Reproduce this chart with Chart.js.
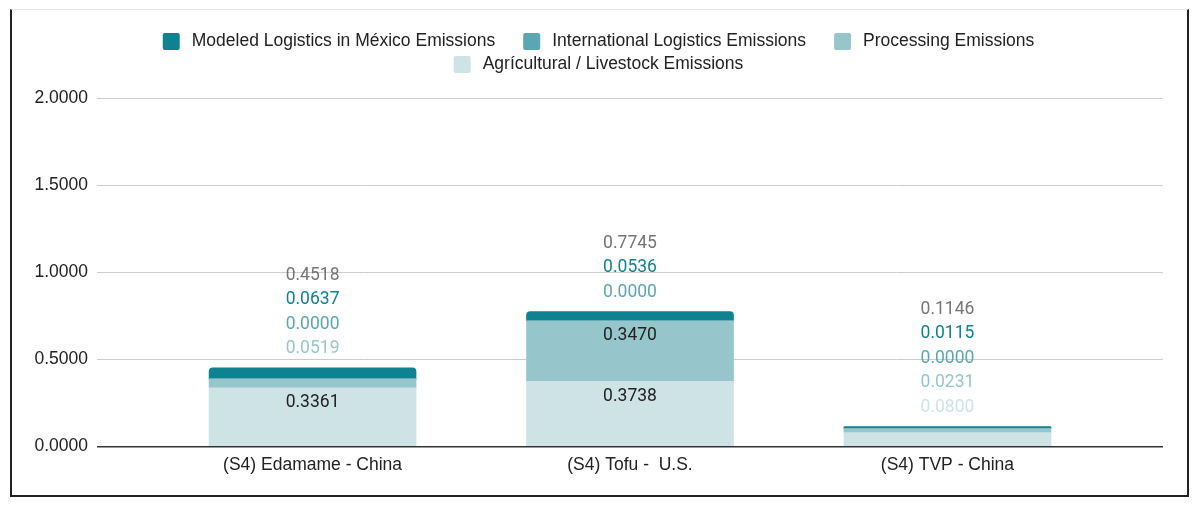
<!DOCTYPE html>
<html>
<head>
<meta charset="utf-8">
<script src="https://cdn.jsdelivr.net/npm/chart.js@4.4.1/dist/chart.umd.min.js"></script>
<style>
  html, body { margin: 0; padding: 0; background: #fff; }
  #wrap { position: relative; width: 1197px; height: 506px; }
  #frame { position: absolute; left: 10px; top: 9px; width: 1175px; height: 485px;
           border: 2px solid #222; border-top: 1px solid #e6e6e6; pointer-events: none; }
</style>
</head>
<body>
<div id="wrap">
  <canvas id="chart" width="1197" height="506"></canvas>
  <div id="frame"></div>
</div>
<script>
// Categories and series (bottom of stack first)
const categories = ['(S4) Edamame - China', '(S4) Tofu -  U.S.', '(S4) TVP - China'];
const agricultural = [0.3361, 0.3738, 0.0800];
const processing = [0.0519, 0.3470, 0.0231];
const international = [0.0000, 0.0000, 0.0000];
const modeled = [0.0637, 0.0536, 0.0115];
const totals = [0.4518, 0.7745, 0.1146];
const yTicks = [0, 0.5, 1, 1.5, 2];

const seriesNames = [
  'Agrícultural / Livestock Emissions',
  'Processing Emissions',
  'International Logistics Emissions',
  'Modeled Logistics in México Emissions'
];
const seriesColors = ['#cde3e6', '#96c6cb', '#5aa6b1', '#0e8290'];
const seriesValues = [agricultural, processing, international, modeled];

const TEXT = '#222222';
const SANS = '"Liberation Sans", Arial, sans-serif';

// value labels: inside big segments, stacked above the bar otherwise
const valueLabels = {
  id: 'valueLabels',
  afterDatasetsDraw(chart) {
    const ctx = chart.ctx;
    ctx.save();
    ctx.font = '17.5px Roboto, sans-serif';
    ctx.textAlign = 'center';
    ctx.textBaseline = 'middle';
    categories.forEach((c, i) => {
      const above = [];
      let top = 0, cx = 0;
      chart.data.datasets.forEach((ds, d) => {
        const bar = chart.getDatasetMeta(d).data[i];
        const v = ds.data[i].y;
        cx = bar.x;
        top = Math.min(bar.y, bar.base);
        if (bar.base - bar.y > 30) {
          ctx.fillStyle = TEXT;
          ctx.fillText(v.toFixed(4), bar.x, bar.y + 15);
        } else {
          above.push({ text: v.toFixed(4), color: ds.backgroundColor });
        }
      });
      above.push({ text: totals[i].toFixed(4), color: '#757575' });
      above.forEach((a, k) => {
        ctx.fillStyle = a.color;
        ctx.fillText(a.text, cx, top - 19 - k * 24.5);
      });
    });
    ctx.restore();
  }
};

// legend drawn like the Google chart one: reversed order, centred rows
const topLegend = {
  id: 'topLegend',
  afterDraw(chart) {
    const ctx = chart.ctx;
    ctx.save();
    ctx.font = '17.5px ' + SANS;
    ctx.textBaseline = 'middle';
    const gap = 28, maxW = 1000;
    const items = chart.data.datasets.slice().reverse().map(ds => ({
      text: ds.label, color: ds.backgroundColor, w: 29 + ctx.measureText(ds.label).width
    }));
    const rows = [[]];
    let rowW = 0;
    items.forEach(it => {
      const cur = rows[rows.length - 1];
      const add = (cur.length ? gap : 0) + it.w;
      if (cur.length && rowW + add > maxW) { rows.push([it]); rowW = it.w; }
      else { cur.push(it); rowW += add; }
    });
    rows.forEach((row, r) => {
      const total = row.reduce((s, it) => s + it.w, 0) + gap * (row.length - 1);
      let x = chart.width / 2 - total / 2;
      const y = 41.5 + r * 23;
      row.forEach(it => {
        ctx.fillStyle = it.color;
        ctx.beginPath();
        if (ctx.roundRect) ctx.roundRect(x, y - 8.5, 17, 17, 2); else ctx.rect(x, y - 8.5, 17, 17);
        ctx.fill();
        ctx.fillStyle = TEXT;
        ctx.fillText(it.text, x + 29, y);
        x += it.w + gap;
      });
    });
    ctx.restore();
  }
};

const datasets = seriesNames.map((name, s) => ({
  label: name,
  data: seriesValues[s].map((v, i) => ({ x: i, y: v })),
  backgroundColor: seriesColors[s],
  borderWidth: 0,
  barThickness: 207,
  borderRadius: s === seriesNames.length - 1 ? { topLeft: 4, topRight: 4, bottomLeft: 0, bottomRight: 0 } : 0
}));

new Chart(document.getElementById('chart').getContext('2d'), {
  type: 'bar',
  data: { datasets },
  options: {
    responsive: false,
    animation: false,
    layout: { padding: { top: 98, left: 25.5, right: 34, bottom: 29.5 } },
    plugins: {
      legend: { display: false },
      tooltip: { enabled: false }
    },
    scales: {
      x: {
        type: 'linear',
        stacked: true,
        offset: false,
        min: -0.679,
        max: 2.679,
        grid: { display: false, offset: false },
        border: { display: false },
        afterBuildTicks: scale => { scale.ticks = categories.map((c, i) => ({ value: i })); },
        ticks: {
          callback: v => categories[v],
          autoSkip: false,
          maxRotation: 0,
          padding: 0.5,
          color: TEXT,
          font: { family: SANS, size: 17.5 }
        }
      },
      y: {
        stacked: true,
        min: yTicks[0],
        max: yTicks[yTicks.length - 1],
        afterBuildTicks: scale => { scale.ticks = yTicks.map(v => ({ value: v })); },
        grid: {
          drawTicks: false,
          color: c => c.tick.value === 0 ? '#333333' : '#cccccc',
          lineWidth: c => c.tick.value === 0 ? 1.5 : 1
        },
        border: { display: false },
        ticks: {
          callback: v => v.toFixed(4),
          padding: 9,
          color: TEXT,
          font: { family: SANS, size: 17.5 }
        }
      }
    }
  },
  plugins: [valueLabels, topLegend]
});
</script>
</body>
</html>
